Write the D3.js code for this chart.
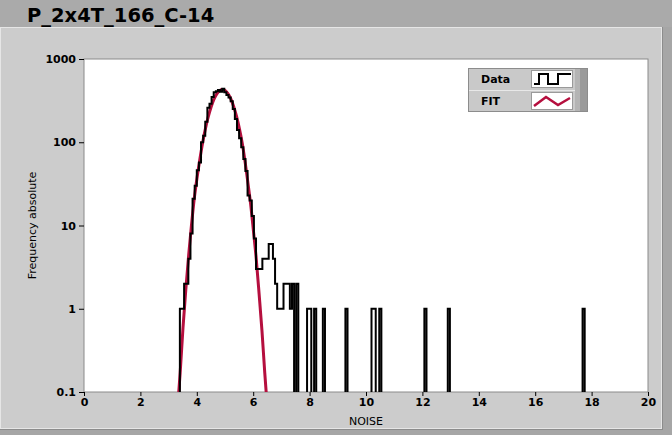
<!DOCTYPE html>
<html>
<head>
<meta charset="utf-8">
<script src="https://cdn.jsdelivr.net/npm/d3@7"></script>
<style>
  html, body { margin: 0; padding: 0; background: #cccccc; }
  svg { display: block; font-family: "DejaVu Sans", Verdana, sans-serif; }
</style>
</head>
<body>
<svg width="672" height="435"></svg>
<script>
// histogram, contiguous part: bins of binWidth starting at binStart
const binStart = 3.40;
const binWidth = 0.075;
const counts = [
  1, 1, 2, 2, 4, 8, 21, 30, 46, 57,
  100, 120, 176, 260, 290, 350, 400, 410, 425, 405,
  440, 400, 370, 345, 310, 250, 190, 140, 112, 87,
  63, 45, 23, 20, 13, 7, 3, 3, 3, 4,
  4, 4, 6, 6, 4, 2, 1, 1, 1, 2,
  2, 2, 1, 2, 0, 2
];

// isolated outliers (left edge of bin, count)
const tailX = [7.91, 7.985, 8.16, 8.47, 9.27, 10.195, 10.27, 10.47, 12.07, 12.90, 17.68];
const tailCounts = [1, 1, 1, 1, 1, 1, 1, 1, 1, 1, 1];

// gaussian fit
const fitX = [3.36, 3.41, 3.51, 3.61, 3.71, 3.81, 3.91, 4.01, 4.11, 4.21, 4.31,
  4.41, 4.51, 4.61, 4.71, 4.81, 4.91, 5.01, 5.11, 5.21, 5.31, 5.41, 5.51,
  5.61, 5.71, 5.81, 5.91, 6.01, 6.11, 6.21, 6.31, 6.41, 6.46];
const fitY = [0.1, 0.17, 0.59, 1.7, 4.35, 10, 21, 37.7, 63, 100, 148,
  204, 267, 329, 381, 417, 430, 417, 381, 329, 267, 204, 146,
  98, 59, 33, 18, 8.5, 3.9, 1.5, 0.55, 0.17, 0.1];

const xTicks = [0, 2, 4, 6, 8, 10, 12, 14, 16, 18, 20];
const yTicks = [0.1, 1, 10, 100, 1000];
const yTickLabels = ['0.1', '1', '10', '100', '1000'];

const svg = d3.select('svg');
const plot = {left: 84, right: 648, top: 59, bottom: 392};

// frame / panel
svg.append('rect').attr('width', 672).attr('height', 435).attr('fill', '#cccccc');
svg.append('rect').attr('width', 672).attr('height', 27).attr('fill', '#aaaaaa');
svg.append('rect').attr('x', 0.5).attr('y', 27.5).attr('width', 661).attr('height', 401)
    .attr('fill', 'none').attr('stroke', '#e6e6e6');
svg.append('rect').attr('x', 662).attr('y', 27).attr('width', 10).attr('height', 408).attr('fill', '#a6a6a6');
svg.append('rect').attr('x', 0).attr('y', 429).attr('width', 662).attr('height', 6).attr('fill', '#a6a6a6');
svg.append('line').attr('x1', 662.5).attr('x2', 662.5).attr('y1', 27).attr('y2', 430)
    .attr('stroke', '#8c8c8c');
svg.append('line').attr('x1', 0).attr('x2', 662).attr('y1', 429.5).attr('y2', 429.5)
    .attr('stroke', '#8c8c8c');

svg.append('text')
    .attr('x', 27).attr('y', 22)
    .attr('font-size', 19.5).attr('font-weight', 'bold').attr('fill', '#000')
    .text('P_2x4T_166_C-14');

const x = d3.scaleLinear().domain([0, 20]).range([plot.left, plot.right]);
const y = d3.scaleLog().domain([0.1, 1000]).range([plot.bottom, plot.top]);

svg.append('rect')
    .attr('x', plot.left).attr('y', plot.top)
    .attr('width', plot.right - plot.left).attr('height', plot.bottom - plot.top)
    .attr('fill', '#fff').attr('stroke', '#8a8a8a');

svg.append('clipPath').attr('id', 'clip')
  .append('rect')
    .attr('x', plot.left).attr('y', plot.top)
    .attr('width', plot.right - plot.left).attr('height', plot.bottom - plot.top);

// axes
const xAxis = svg.append('g')
    .attr('transform', `translate(0,${plot.bottom})`)
    .call(d3.axisBottom(x).tickValues(xTicks).tickSize(4).tickPadding(2).tickFormat(d3.format('d')));
xAxis.select('.domain').remove();
xAxis.selectAll('text').attr('font-size', 11).attr('font-weight', 'bold').attr('fill', '#000')
    .attr('font-family', '"DejaVu Sans", Verdana, sans-serif');

const yAxis = svg.append('g')
    .attr('transform', `translate(${plot.left},0)`)
    .call(d3.axisLeft(y).tickValues(yTicks).tickSize(5).tickPadding(3)
      .tickFormat((d, i) => yTickLabels[i]));
yAxis.select('.domain').remove();
yAxis.selectAll('text').attr('font-size', 11).attr('font-weight', 'bold').attr('fill', '#000')
    .attr('font-family', '"DejaVu Sans", Verdana, sans-serif');

svg.append('text')
    .attr('x', (plot.left + plot.right) / 2).attr('y', 425)
    .attr('text-anchor', 'middle').attr('font-size', 11)
    .text('NOISE');

svg.append('text')
    .attr('transform', `translate(36,${(plot.top + plot.bottom) / 2}) rotate(-90)`)
    .attr('text-anchor', 'middle').attr('font-size', 11)
    .text('Frequency absolute');

// bins -> step path, dropping to the floor where a bin is empty or missing
const bins = counts.map((v, i) => ({x0: binStart + i * binWidth, v}))
  .concat(tailX.map((x0, i) => ({x0, v: tailCounts[i]})));
bins.forEach(b => b.x1 = b.x0 + binWidth);

const floor = plot.bottom + 3;
let path = `M${x(bins[0].x0)},${floor}`;
let prev = null;
for (const b of bins) {
  const yy = b.v > 0 ? y(b.v) : floor;
  if (prev && b.x0 > prev.x1 + 1e-6) {
    path += `L${x(prev.x1)},${floor}L${x(b.x0)},${floor}`;
  }
  path += `L${x(b.x0)},${yy}L${x(b.x1)},${yy}`;
  prev = b;
}
path += `L${x(prev.x1)},${floor}`;

const g = svg.append('g').attr('clip-path', 'url(#clip)');

const fitLine = d3.line()
    .x((d, i) => x(fitX[i]))
    .y(d => y(d))
    .curve(d3.curveMonotoneX);

g.append('path')
    .attr('d', fitLine(fitY))
    .attr('fill', 'none').attr('stroke', '#b50f3e').attr('stroke-width', 3);

g.append('path')
    .attr('d', path)
    .attr('fill', 'none').attr('stroke', '#000').attr('stroke-width', 2);

// legend
const lg = svg.append('g');
lg.append('rect').attr('x', 468.5).attr('y', 68.5).attr('width', 119).attr('height', 43)
    .attr('fill', '#c9c9c9').attr('stroke', '#8c8c8c');
lg.append('rect').attr('x', 575).attr('y', 69).attr('width', 5).attr('height', 42).attr('fill', '#b4b4b4');
lg.append('rect').attr('x', 580).attr('y', 69).attr('width', 7).attr('height', 42).attr('fill', '#9a9a9a');
lg.append('line').attr('x1', 469).attr('x2', 575).attr('y1', 90.5).attr('y2', 90.5).attr('stroke', '#e8e8e8');
lg.append('rect').attr('x', 531.5).attr('y', 70.5).attr('width', 41).attr('height', 17)
    .attr('fill', '#fff').attr('stroke', '#9a9a9a');
lg.append('rect').attr('x', 531.5).attr('y', 92.5).attr('width', 41).attr('height', 17)
    .attr('fill', '#fff').attr('stroke', '#9a9a9a');
lg.append('path').attr('d', 'M534,84H539V74H548V84H558V74H571')
    .attr('fill', 'none').attr('stroke', '#000').attr('stroke-width', 2);
lg.append('path').attr('d', 'M534,106L546,97L558,105L570,98')
    .attr('fill', 'none').attr('stroke', '#b50f3e').attr('stroke-width', 2.5);
lg.append('text').attr('x', 481).attr('y', 83).attr('font-size', 11).attr('font-weight', 'bold').text('Data');
lg.append('text').attr('x', 481).attr('y', 105).attr('font-size', 11).attr('font-weight', 'bold').text('FIT');
</script>
</body>
</html>
